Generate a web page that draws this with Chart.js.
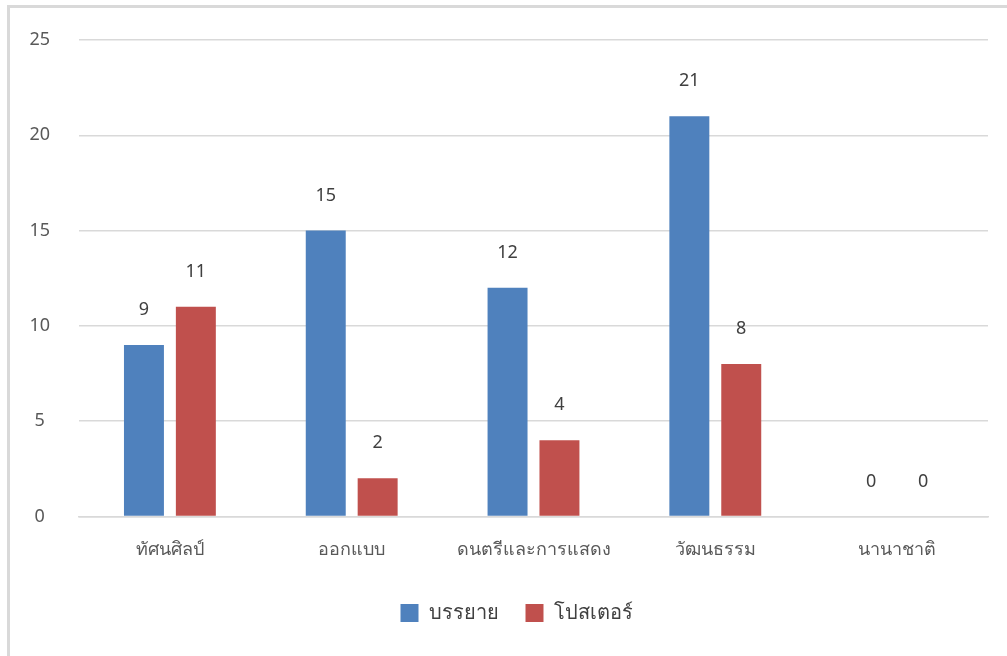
<!DOCTYPE html>
<html>
<head>
<meta charset="utf-8">
<script src="https://cdn.jsdelivr.net/npm/chart.js@4"></script>
<style>
  html, body { margin: 0; padding: 0; background: #fff; overflow: hidden; }
  #frame {
    position: absolute; left: 7px; top: 5px; width: 1100px; height: 700px;
    border-left: 3px solid #d9d9d9; border-top: 3px solid #d9d9d9;
  }
  #wrap { position: absolute; left: 0; top: 0; width: 1007px; height: 656px; }
</style>
</head>
<body>
<div id="frame"></div>
<div id="wrap"><canvas id="barChart"></canvas></div>
<script>
const categories = ['ทัศนศิลป์', 'ออกแบบ', 'ดนตรีและการแสดง', 'วัฒนธรรม', 'นานาชาติ'];
const seriesNames = ['บรรยาย', 'โปสเตอร์'];
const lectureValues = [9, 15, 12, 21, 0];
const posterValues = [11, 2, 4, 8, 0];
const yTicks = [0, 5, 10, 15, 20, 25];

const fontFamily = "'Noto Sans', 'DejaVu Sans', sans-serif";

// draws the number above each bar
const valueLabels = {
  id: 'valueLabels',
  afterDatasetsDraw(chart) {
    const ctx = chart.ctx;
    ctx.save();
    ctx.font = '18px ' + fontFamily;
    ctx.fillStyle = '#404040';
    ctx.textAlign = 'center';
    ctx.textBaseline = 'middle';
    chart.data.datasets.forEach((ds, i) => {
      chart.getDatasetMeta(i).data.forEach((bar, j) => {
        ctx.fillText(ds.data[j], bar.x, bar.y - 35);
      });
    });
    ctx.restore();
  }
};

// nudge the legend a bit to the right, like the original
const legendShift = {
  id: 'legendShift',
  afterLayout(chart) {
    chart.legend.left += 9;
    chart.legend.right += 9;
  }
};

const ctx = document.getElementById('barChart').getContext('2d');
new Chart(ctx, {
  type: 'bar',
  data: {
    labels: categories,
    datasets: [
      { label: seriesNames[0], data: lectureValues, backgroundColor: '#4F81BD' },
      { label: seriesNames[1], data: posterValues, backgroundColor: '#C0504D' }
    ]
  },
  options: {
    responsive: true,
    maintainAspectRatio: false,
    animation: false,
    categoryPercentage: 0.571,
    barPercentage: 0.77,
    layout: { padding: { top: 40, right: 19, bottom: 23, left: 27 } },
    plugins: {
      tooltip: { enabled: false },
      legend: {
        position: 'bottom',
        labels: {
          boxWidth: 18, boxHeight: 18, padding: 27,
          color: '#404040',
          font: { size: 20, family: fontFamily }
        }
      }
    },
    scales: {
      x: {
        grid: { display: false },
        border: { color: '#d9d9d9', width: 1.5 },
        ticks: { color: '#595959', padding: 15, font: { size: 18, family: fontFamily } }
      },
      y: {
        min: 0, max: 25,
        afterFit(scale) { scale.width = 52; },
        afterBuildTicks(scale) { scale.ticks = yTicks.map(v => ({ value: v })); },
        grid: { color: '#d9d9d9', lineWidth: 1.5, drawTicks: false },
        border: { display: false },
        ticks: { color: '#595959', padding: 29, crossAlign: 'center', font: { size: 18, family: fontFamily } }
      }
    }
  },
  plugins: [valueLabels, legendShift]
});
</script>
</body>
</html>
